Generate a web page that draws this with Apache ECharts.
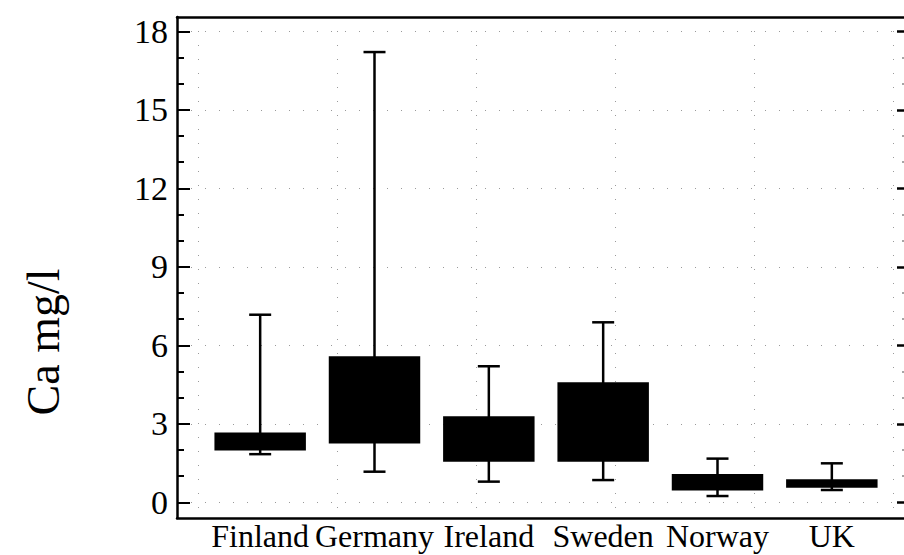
<!DOCTYPE html>
<html>
<head>
<meta charset="utf-8">
<style>
  html, body { margin: 0; padding: 0; background: #fff; overflow: hidden; }
  #chart { width: 904px; height: 555px; overflow: hidden; }
</style>
<script src="https://cdn.jsdelivr.net/npm/echarts@6/dist/echarts.min.js"></script>
</head>
<body>
<div id="chart"></div>
<script>
(function() {
  var serif = 'Liberation Serif';
  var ink = '#000';

  // --- data ---
  var categories = ['Finland', 'Germany', 'Ireland', 'Sweden', 'Norway', 'UK'];
  var whiskerLow = [1.84, 1.17, 0.79, 0.85, 0.24, 0.47];
  var boxLow = [1.98, 2.25, 1.55, 1.55, 0.45, 0.56];
  var boxHigh = [2.67, 5.58, 3.29, 4.59, 1.08, 0.88];
  var whiskerHigh = [7.17, 17.21, 5.20, 6.88, 1.67, 1.49];

  var majorTicks = [0, 3, 6, 9, 12, 15, 18];
  var minorTicks = [];
  for (var v = 0; v <= 18; v++) { if (v % 3 !== 0) minorTicks.push(v); }
  var gridX = [0, 1, 2, 3, 4, 5];

  var yMin = -0.6, yMax = 18.55;

  var boxData = categories.map(function(c, i) {
    return [i, whiskerLow[i], boxLow[i], boxHigh[i], whiskerHigh[i]];
  });

  var chart = echarts.init(document.getElementById('chart'), null, { renderer: 'svg', width: 904, height: 555 });

  var dotted = { color: '#9a9a9a', width: 1, type: [1, 13] };
  var noLine = { show: false, onZero: false };
  var frameLine = { show: true, onZero: false, lineStyle: { color: ink, width: 2.5 } };

  chart.setOption({
    animation: false,
    backgroundColor: '#fff',
    grid: [
      { left: 177, width: 730, top: 17, bottom: 37, outerBoundsMode: 'none' },
      { left: 203, width: 686, top: 17, bottom: 37, outerBoundsMode: 'none' }
    ],
    xAxis: [
      {
        type: 'value', gridIndex: 0, position: 'bottom', min: -0.15, max: 5.1,
        axisLine: frameLine,
        axisTick: { show: false, customValues: gridX },
        axisLabel: { show: false },
        splitLine: { show: true, lineStyle: dotted }
      },
      {
        type: 'category', gridIndex: 1, data: categories, position: 'bottom',
        axisLine: noLine,
        axisTick: { show: false },
        axisLabel: { interval: 0, color: ink, fontFamily: serif, fontSize: 32, lineHeight: 32, margin: 2 },
        splitLine: { show: false }
      },
      {
        type: 'value', gridIndex: 0, position: 'top', min: -0.15, max: 5.1,
        axisLine: frameLine,
        axisTick: { show: false },
        axisLabel: { show: false },
        splitLine: { show: false }
      }
    ],
    yAxis: [
      {
        type: 'value', gridIndex: 0, position: 'left', min: yMin, max: yMax,
        axisLine: frameLine,
        axisTick: { show: true, inside: true, length: 13, customValues: majorTicks, lineStyle: { color: ink, width: 2 } },
        axisLabel: { customValues: majorTicks, color: ink, fontFamily: serif, fontSize: 34, margin: 9 },
        splitLine: { show: true, lineStyle: dotted }
      },
      {
        type: 'value', gridIndex: 0, position: 'left', min: yMin, max: yMax,
        axisLine: noLine,
        axisTick: { show: true, inside: true, length: 7, customValues: minorTicks, lineStyle: { color: ink, width: 2 } },
        axisLabel: { show: false },
        splitLine: { show: false }
      },
      {
        type: 'value', gridIndex: 0, position: 'right', min: yMin, max: yMax,
        axisLine: noLine,
        axisTick: { show: true, inside: true, length: 10, customValues: majorTicks, lineStyle: { color: ink, width: 2.5 } },
        axisLabel: { show: false },
        splitLine: { show: false }
      },
      {
        type: 'value', gridIndex: 0, position: 'right', min: yMin, max: yMax,
        axisLine: noLine,
        axisTick: { show: true, inside: true, length: 5, customValues: minorTicks, lineStyle: { color: '#888', width: 1.5 } },
        axisLabel: { show: false },
        splitLine: { show: false }
      },
      {
        type: 'value', gridIndex: 1, min: yMin, max: yMax,
        axisLine: noLine, axisTick: { show: false },
        axisLabel: { show: false }, splitLine: { show: false }
      }
    ],
    graphic: [{
      type: 'text',
      x: 43, y: 342,
      rotation: Math.PI / 2,
      style: {
        text: 'Ca mg/l',
        fill: ink,
        font: '46px "Liberation Serif"',
        align: 'center',
        verticalAlign: 'middle'
      }
    }],
    series: [{
      type: 'custom',
      xAxisIndex: 1,
      yAxisIndex: 4,
      data: boxData,
      encode: { x: 0, y: [1, 2, 3, 4] },
      renderItem: function(params, api) {
        var i = api.value(0);
        var lo = api.coord([i, api.value(1)]);
        var b = api.coord([i, api.value(2)]);
        var t = api.coord([i, api.value(3)]);
        var hi = api.coord([i, api.value(4)]);
        var bw = api.size([1, 0])[0] * 0.8;
        var cw = 22;
        var ls = { stroke: ink, lineWidth: 2.5 };
        return {
          type: 'group',
          children: [
            { type: 'line', shape: { x1: lo[0], y1: lo[1], x2: hi[0], y2: hi[1] }, style: ls },
            { type: 'line', shape: { x1: lo[0] - cw / 2, y1: lo[1], x2: lo[0] + cw / 2, y2: lo[1] }, style: ls },
            { type: 'line', shape: { x1: hi[0] - cw / 2, y1: hi[1], x2: hi[0] + cw / 2, y2: hi[1] }, style: ls },
            { type: 'rect', shape: { x: b[0] - bw / 2, y: t[1], width: bw, height: b[1] - t[1] }, style: { fill: ink } }
          ]
        };
      }
    }]
  });
})();
</script>
</body>
</html>
